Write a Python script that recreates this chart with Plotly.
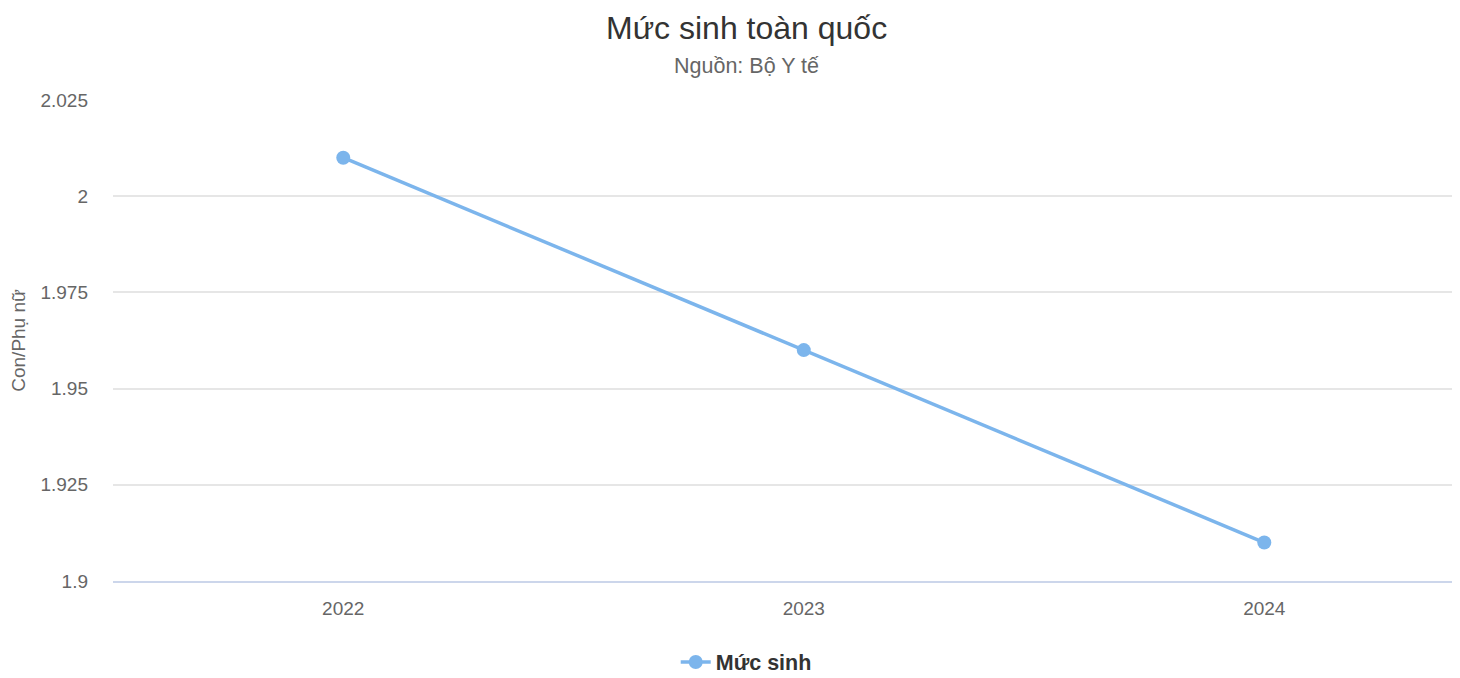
import plotly.graph_objects as go

years = ["2022", "2023", "2024"]
fertility = [2.01, 1.96, 1.91]
y_ticks = [1.9, 1.925, 1.95, 1.975, 2.0, 2.025]
y_tick_labels = ["1.9", "1.925", "1.95", "1.975", "2", "2.025"]

title_text = "Mức sinh toàn quốc"
subtitle_text = "Nguồn: Bộ Y tế"
y_title = "Con/Phụ nữ"
series_name = "Mức sinh"

FONT = "Liberation Sans, Arial, sans-serif"
LINE_COLOR = "#7cb5ec"
W, H = 1452, 670
M_T, M_B, M_L = 92, 97, 105
PLOT_H = H - M_T - M_B
PLOT_W = W - M_L


def paper_y(px_from_top):
    return (H - M_B - px_from_top) / PLOT_H


def paper_x(px_from_left):
    return (px_from_left - M_L) / PLOT_W


fig = go.Figure()
fig.add_trace(go.Scatter(
    x=years, y=fertility, mode="lines+markers", name=series_name,
    line=dict(color=LINE_COLOR, width=3.5),
    marker=dict(color=LINE_COLOR, size=14),
))

fig.update_layout(
    width=W, height=H,
    paper_bgcolor="white", plot_bgcolor="white",
    margin=dict(l=M_L, r=0, t=M_T, b=M_B),
    font=dict(family=FONT, color="#666666"),
    showlegend=True,
    legend=dict(
        orientation="h", x=0.4701, xanchor="center",
        yref="container", y=16 / H, yanchor="middle",
        font=dict(size=21.5, color="#333333", family=FONT, weight="bold"),
    ),
    annotations=[
        dict(text=title_text, xref="paper", yref="paper", x=paper_x(738.5), y=paper_y(20),
             xanchor="center", yanchor="middle", showarrow=False,
             font=dict(size=32, color="#333333", family=FONT)),
        dict(text=subtitle_text, xref="paper", yref="paper", x=paper_x(738.5), y=paper_y(58),
             xanchor="center", yanchor="middle", showarrow=False,
             font=dict(size=21.5, color="#666666", family=FONT)),
    ],
)

fig.update_xaxes(
    type="category", range=[-0.5, 2.425],
    showgrid=False, showline=True, linecolor="#ccd6eb", linewidth=1.5,
    ticks="", tickfont=dict(size=19, color="#666666"),
    ticklabelstandoff=9, zeroline=False, fixedrange=True,
)
fig.update_yaxes(
    range=[1.9, 2.025], tickvals=y_ticks, ticktext=y_tick_labels,
    showgrid=True, gridcolor="#e6e6e6", gridwidth=1.5,
    showline=False, zeroline=False, ticks="",
    tickfont=dict(size=19, color="#666666"), ticklabelstandoff=24,
    title=dict(text=y_title, font=dict(size=19, color="#666666"), standoff=14),
)

fig.write_html("out.html")
